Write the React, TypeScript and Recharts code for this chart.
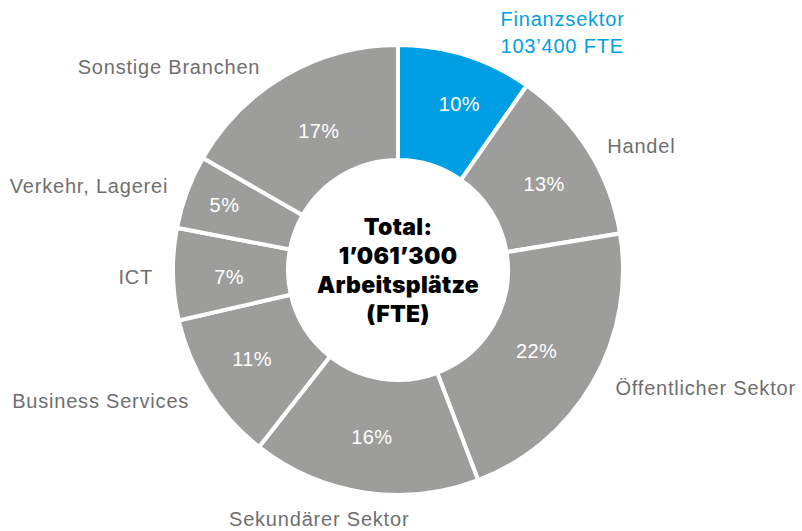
import React from 'react';
import { PieChart, Pie, Cell } from 'recharts';

const categories = [
  'Finanzsektor',
  'Handel',
  'Öffentlicher Sektor',
  'Sekundärer Sektor',
  'Business Services',
  'ICT',
  'Verkehr, Lagerei',
  'Sonstige Branchen',
];
const shares = [9.7, 12.7, 21.8, 16.4, 10.8, 6.6, 5.3, 16.7];
const percentLabels = ['10%', '13%', '22%', '16%', '11%', '7%', '5%', '17%'];
const highlightSubLabel = '103’400 FTE';
const centerLines = ['Total:', '1’061’300', 'Arbeitsplätze', '(FTE)'];

const data = categories.map((name, i) => ({ name, value: shares[i], pct: percentLabels[i] }));

const CX = 398;
const CY = 270;
const INNER = 110;
const OUTER = 225;
const BLUE = '#009fe3';
const GREY = '#9d9d9c';
const TEXT_GREY = '#6f6f6f';
const FONT = '"Liberation Sans", Arial, sans-serif';
const RADIAN = Math.PI / 180;

// layout nudges (pixels) for outer category labels and inner percent labels
const nameNudge: [number, number][] = [
  [29, -4],
  [2, 7],
  [5, -4],
  [-42, 7],
  [-2, 0],
  [0, 2],
  [0, 1],
  [-15, 9],
];
const pctNudge: [number, number][] = [
  [11, -6],
  [4, 4],
  [-7, -3],
  [-1, 1],
  [-4, -1],
  [-1, 4],
  [-16, -7],
  [5, 6],
];

const renderLabel = (props: any) => {
  const { cx, cy, midAngle, index } = props;
  const cos = Math.cos(-midAngle * RADIAN);
  const sin = Math.sin(-midAngle * RADIAN);
  const rIn = 168;
  const [pdx, pdy] = pctNudge[index] || [0, 0];
  const px = cx + rIn * cos + pdx;
  const py = cy + rIn * sin + pdy;
  const rOut = OUTER + 20;
  const [ndx, ndy] = nameNudge[index] || [0, 0];
  const lx = cx + rOut * cos + ndx;
  const ly = cy + rOut * sin + ndy;
  let anchor: 'start' | 'end' | 'middle' = cos >= 0 ? 'start' : 'end';
  if (index === 3) anchor = 'middle';
  const isHi = index === 0;
  return (
    <g key={`lbl-${index}`}>
      <text
        x={px}
        y={py}
        fill="#ffffff"
        fontFamily={FONT}
        fontSize={20}
        letterSpacing={0.4}
        textAnchor="middle"
        dominantBaseline="central"
      >
        {data[index].pct}
      </text>
      <text
        x={lx}
        y={isHi ? ly - 13 : ly}
        fill={isHi ? BLUE : TEXT_GREY}
        fontFamily={FONT}
        fontSize={20}
        letterSpacing={0.8}
        textAnchor={anchor}
        dominantBaseline="central"
      >
        {data[index].name}
      </text>
      {isHi && (
        <text
          x={lx}
          y={ly + 14}
          fill={BLUE}
          fontFamily={FONT}
          fontSize={20}
          letterSpacing={0.8}
          textAnchor={anchor}
          dominantBaseline="central"
        >
          {highlightSubLabel}
        </text>
      )}
      {isHi &&
        centerLines.map((t, k) => (
          <text
            key={k}
            x={cx}
            y={cy - 43 + k * 29}
            fill="#000000"
            fontFamily='Inter, "Liberation Sans", sans-serif'
            fontWeight={900}
            fontSize={23}
            letterSpacing={0.3}
            textAnchor="middle"
            dominantBaseline="central"
          >
            {t}
          </text>
        ))}
    </g>
  );
};

export default function App() {
  return (
    <div style={{ position: 'absolute', left: 0, top: 0, width: 802, height: 531, background: '#fff' }}>
      <PieChart width={802} height={531} margin={{ top: 0, right: 0, bottom: 0, left: 0 }}>
        <Pie
          data={data}
          dataKey="value"
          nameKey="name"
          cx={CX}
          cy={CY}
          innerRadius={INNER}
          outerRadius={OUTER}
          startAngle={90}
          endAngle={-270}
          stroke="#ffffff"
          strokeWidth={4}
          label={renderLabel}
          labelLine={false}
          isAnimationActive={false}
        >
          {data.map((d, i) => (
            <Cell key={d.name} fill={i === 0 ? BLUE : GREY} />
          ))}
        </Pie>
      </PieChart>
    </div>
  );
}
